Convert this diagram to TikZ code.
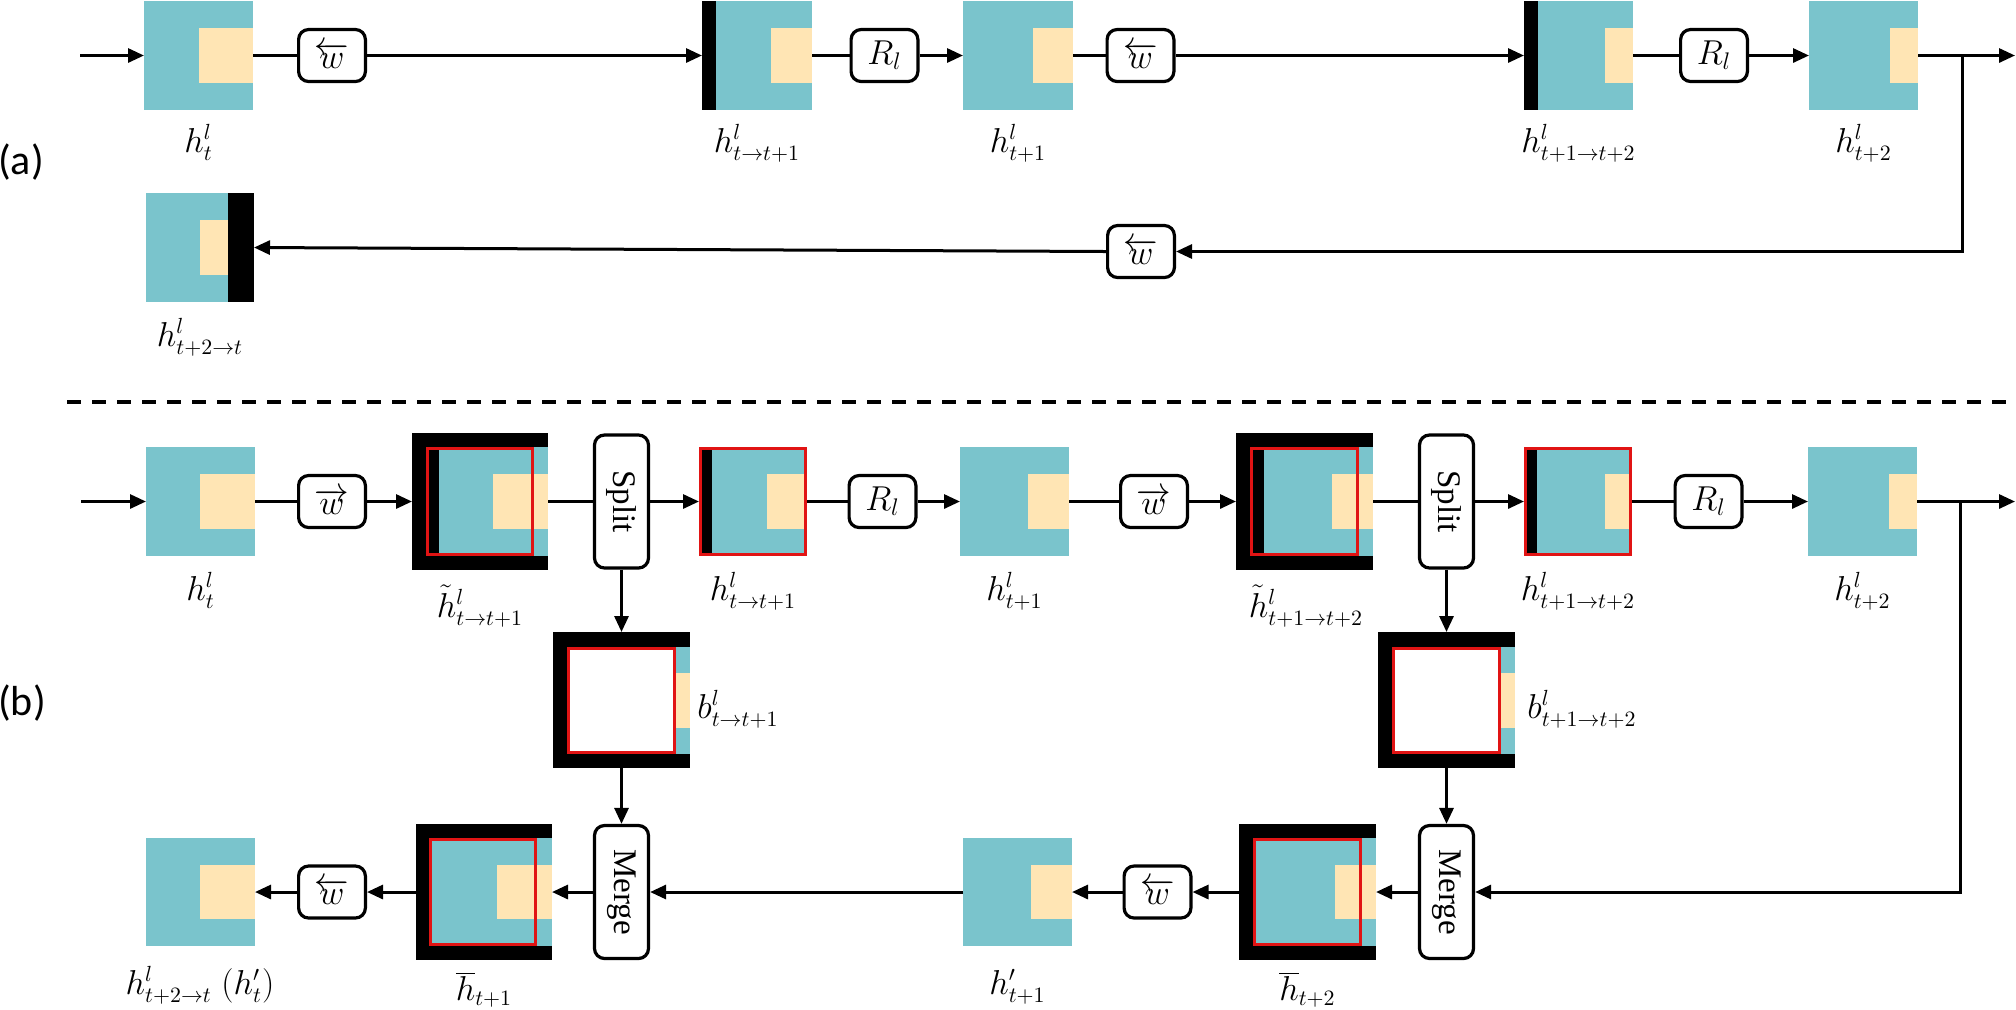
\documentclass[tikz,border=0pt]{standalone}
\usepackage[no-math]{fontspec}
\usepackage{graphicx}
\newfontfamily\serifbox{Liberation Serif}
\newfontfamily\labfont{Carlito}
\usetikzlibrary{arrows.meta,fit}
\definecolor{tealc}{RGB}{122,196,204}
\definecolor{beigec}{RGB}{255,229,180}
\definecolor{redc}{RGB}{225,20,20}
% plain square: name, x1, y1, x2, y2, beige x1, beige y1, beige y2
\newcommand\hsq[8]{%
  \fill[tealc] (#2,#3) rectangle (#4,#5);
  \fill[beigec] (#6,#7) rectangle (#4,#8);
  \node[fitbox, fit={(#2,#3)(#4,#5)}] (#1) {};}
\begin{document}
\begin{tikzpicture}[x=0.5pt,y=-0.5pt,
  fitbox/.style={inner sep=0pt, outer sep=0pt},
  conn/.style={line width=1.5pt},
  arr/.style={conn, -{Triangle[length=8pt,width=7pt]}},
  opbox/.style={draw, line width=1.6pt, rounded corners=5pt, fill=white,
    inner sep=0pt, minimum width=33.4pt, minimum height=26pt,
    font=\fontsize{17}{20}\selectfont},
  tallbox/.style={draw, line width=1.6pt, rounded corners=5pt, fill=white,
    inner sep=0pt, minimum width=27pt, minimum height=66.5pt,
    font=\serifbox\fontsize{16.5}{19}\selectfont},
  lab/.style={anchor=base, inner sep=0pt, font=\fontsize{16}{19}\selectfont},
  labw/.style={lab, anchor=base west},
  part/.style={font=\labfont\fontsize{21}{24}\selectfont, inner sep=0pt},
  redframe/.style={draw=redc, line width=1.5pt}
]
\useasboundingbox (0,0) rectangle (2016,1009);

% ---------------- (a) ----------------
\node[part] (pa) at (21,162) {(a)};

\hsq{ha1}{144}{1}{253}{110}{199}{28}{83}
\node[opbox] (wa1) at (332,55.5) {$\overleftarrow{w}$};
\hsq{ha2}{702}{1}{812}{110}{771}{28}{83}
\fill[black] (702,1) rectangle (716,110);
\node[opbox] (Ra1) at (884.5,55.5) {$R_l$};
\hsq{ha3}{963}{1}{1073}{110}{1033}{28}{83}
\node[opbox] (wa2) at (1140.5,55.5) {$\overleftarrow{w}$};
\hsq{ha4}{1524}{1}{1633}{110}{1605}{28}{83}
\fill[black] (1524,1) rectangle (1538,110);
\node[opbox] (Ra2) at (1714,55.5) {$R_l$};
\hsq{ha5}{1809}{1}{1918}{110}{1890}{28}{83}

\node[opbox] (wa3) at (1141,251.5) {$\overleftarrow{w}$};
\hsq{ha6}{146}{193}{254}{302}{200}{220}{275}
\fill[black] (228,193) rectangle (254,302);

\node[lab] (la1) at (198.5,152) {$h^l_t$};
\node[lab] (la2) at (757,152) {$h^l_{t\to t+1}$};
\node[lab] (la3) at (1018,152) {$h^l_{t+1}$};
\node[lab] (la4) at (1578.5,152) {$h^l_{t+1\to t+2}$};
\node[lab] (la5) at (1863.5,152) {$h^l_{t+2}$};
\node[lab] (la6) at (200,346) {$h^l_{t+2\to t}$};

\coordinate (ina) at (80,55.5);
\coordinate (outa) at (2015,55.5);
\coordinate (bra) at (1962,55.5);

\draw[arr] (ina) -- (ha1.west);
\draw[conn] (ha1.east) -- (wa1.west);
\draw[arr] (wa1.east) -- (ha2.west);
\draw[conn] (ha2.east) -- (Ra1.west);
\draw[arr] (Ra1.east) -- (ha3.west);
\draw[conn] (ha3.east) -- (wa2.west);
\draw[arr] (wa2.east) -- (ha4.west);
\draw[conn] (ha4.east) -- (Ra2.west);
\draw[arr] (Ra2.east) -- (ha5.west);
\draw[arr] (ha5.east) -- (outa);
\draw[arr] (bra) |- (wa3.east);
\draw[arr] (wa3.west) -- (ha6.east);

% separator
\draw[line width=1.7pt, dash pattern=on 7pt off 5.5pt] (67,402) -- (2016,402);

% ---------------- (b) ----------------
\node[part] (pb) at (22,703) {(b)};

\hsq{hb1}{146}{447}{255}{556}{200}{474}{529}
\node[opbox] (wb1) at (332,501.5) {$\overrightarrow{w}$};

% h tilde t->t+1
\fill[black] (412,433) rectangle (548,570);
\fill[tealc] (426,447) rectangle (548,556);
\fill[beigec] (493,474) rectangle (548,529);
\fill[black] (426,447) rectangle (439,556);
\draw[redframe] (427.5,448.5) rectangle (532.5,554.5);
\node[fitbox, fit={(412,433)(548,570)}] (htb1) {};

\node[tallbox] (sp1) at (621.5,501.5) {\rotatebox{-90}{Split}};

\hsq{hb2}{699}{447}{807}{556}{767}{474}{529}
\fill[black] (699,447) rectangle (712,556);
\draw[redframe] (700.5,448.5) rectangle (805.5,554.5);

\node[opbox] (Rb1) at (882.5,501.5) {$R_l$};
\hsq{hb3}{960}{447}{1069}{556}{1028}{474}{529}
\node[opbox] (wb2) at (1154,501.5) {$\overrightarrow{w}$};

% h tilde t+1->t+2
\fill[black] (1236,433) rectangle (1373,570);
\fill[tealc] (1250,447) rectangle (1373,556);
\fill[beigec] (1332,474) rectangle (1373,529);
\fill[black] (1250,447) rectangle (1264,556);
\draw[redframe] (1251.5,448.5) rectangle (1357.5,554.5);
\node[fitbox, fit={(1236,433)(1373,570)}] (htb2) {};

\node[tallbox] (sp2) at (1446.5,501.5) {\rotatebox{-90}{Split}};

\hsq{hb4}{1524}{447}{1632}{556}{1605}{474}{529}
\fill[black] (1524,447) rectangle (1537,556);
\draw[redframe] (1525.5,448.5) rectangle (1630.5,554.5);

\node[opbox] (Rb2) at (1708.5,501.5) {$R_l$};
\hsq{hb5}{1808}{447}{1917}{556}{1889}{474}{529}

% b blocks
\fill[black] (553,632) rectangle (690,768);
\fill[white] (567,647) rectangle (676,754);
\fill[tealc] (676,647) rectangle (690,754);
\fill[beigec] (676,673) rectangle (690,728);
\draw[redframe] (568.5,648.5) rectangle (674.5,752.5);
\node[fitbox, fit={(553,632)(690,768)}] (bb1) {};

\fill[black] (1378,632) rectangle (1515,768);
\fill[white] (1392,647) rectangle (1501,754);
\fill[tealc] (1501,647) rectangle (1515,754);
\fill[beigec] (1501,673) rectangle (1515,728);
\draw[redframe] (1393.5,648.5) rectangle (1499.5,752.5);
\node[fitbox, fit={(1378,632)(1515,768)}] (bb2) {};

% bottom row
\node[tallbox] (mg1) at (621.5,892) {\rotatebox{-90}{Merge}};
\fill[black] (416,824) rectangle (552,960);
\fill[tealc] (429,838) rectangle (552,946);
\fill[beigec] (497,865) rectangle (552,919);
\draw[redframe] (430.5,839.5) rectangle (535.5,944.5);
\node[fitbox, fit={(416,824)(552,960)}] (hbar1) {};

\node[opbox] (wb3) at (332,892) {$\overleftarrow{w}$};
\hsq{hp0}{146}{838}{255}{946}{200}{865}{919}

\hsq{hp1}{963}{838}{1072}{946}{1031}{865}{919}
\node[opbox] (wb4) at (1157.5,892) {$\overleftarrow{w}$};

\fill[black] (1239,824) rectangle (1376,960);
\fill[tealc] (1253,838) rectangle (1376,946);
\fill[beigec] (1335,865) rectangle (1376,919);
\draw[redframe] (1254.5,839.5) rectangle (1360.5,944.5);
\node[fitbox, fit={(1239,824)(1376,960)}] (hbar2) {};

\node[tallbox] (mg2) at (1446.5,892) {\rotatebox{-90}{Merge}};

% labels (b)
\node[lab] (lb1) at (200.5,600) {$h^l_t$};
\node[lab] (lb2) at (480,617) {$\tilde{h}^l_{t\to t+1}$};
\node[lab] (lb3) at (753,600) {$h^l_{t\to t+1}$};
\node[lab] (lb4) at (1014.5,600) {$h^l_{t+1}$};
\node[lab] (lb5) at (1306,617) {$\tilde{h}^l_{t+1\to t+2}$};
\node[lab] (lb6) at (1578,600) {$h^l_{t+1\to t+2}$};
\node[lab] (lb7) at (1862.5,600) {$h^l_{t+2}$};
\node[labw] (lb8) at (697,718) {$b^l_{t\to t+1}$};
\node[labw] (lb9) at (1527,718) {$b^l_{t+1\to t+2}$};
\node[lab] (lb10) at (200,994) {$h^l_{t+2\to t}\ (h'_t)$};
\node[lab] (lb11) at (484,1000) {$\overline{h}_{t+1}$};
\node[lab] (lb12) at (1017.5,994) {$h'_{t+1}$};
\node[lab] (lb13) at (1307.5,1000) {$\overline{h}_{t+2}$};

% connectors (b)
\coordinate (inb) at (81,501.5);
\coordinate (outb) at (2015,501.5);
\coordinate (brb) at (1960,501.5);

\draw[arr] (inb) -- (hb1.west);
\draw[conn] (hb1.east) -- (wb1.west);
\draw[arr] (wb1.east) -- (htb1.west);
\draw[conn] (htb1.east) -- (sp1.west);
\draw[arr] (sp1.east) -- (hb2.west);
\draw[conn] (hb2.east) -- (Rb1.west);
\draw[arr] (Rb1.east) -- (hb3.west);
\draw[conn] (hb3.east) -- (wb2.west);
\draw[arr] (wb2.east) -- (htb2.west);
\draw[conn] (htb2.east) -- (sp2.west);
\draw[arr] (sp2.east) -- (hb4.west);
\draw[conn] (hb4.east) -- (Rb2.west);
\draw[arr] (Rb2.east) -- (hb5.west);
\draw[arr] (hb5.east) -- (outb);

\draw[arr] (sp1.south) -- (bb1.north);
\draw[arr] (bb1.south) -- (mg1.north);
\draw[arr] (sp2.south) -- (bb2.north);
\draw[arr] (bb2.south) -- (mg2.north);

\draw[arr] (brb) |- (mg2.east);
\draw[arr] (mg2.west) -- (hbar2.east);
\draw[arr] (hbar2.west) -- (wb4.east);
\draw[arr] (wb4.west) -- (hp1.east);
\draw[arr] (hp1.west) -- (mg1.east);
\draw[arr] (mg1.west) -- (hbar1.east);
\draw[arr] (hbar1.west) -- (wb3.east);
\draw[arr] (wb3.west) -- (hp0.east);
\end{tikzpicture}
\end{document}
